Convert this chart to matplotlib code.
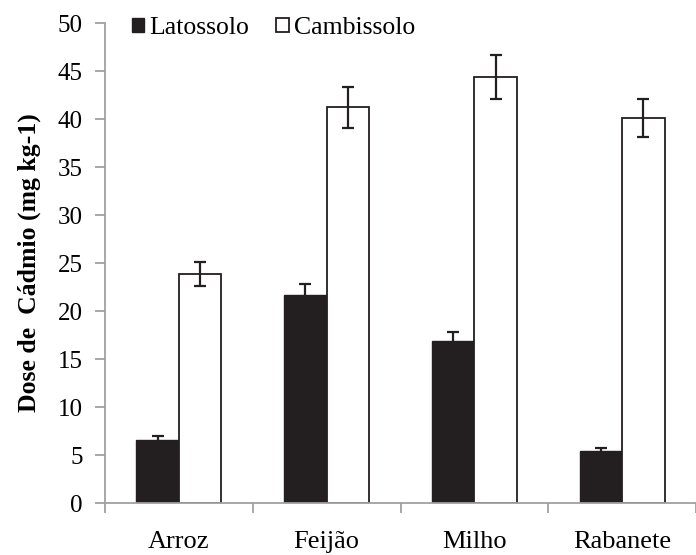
import matplotlib
matplotlib.use("Agg")
import matplotlib.pyplot as plt
import numpy as np

# data
culturas = ["Arroz", "Feijão", "Milho", "Rabanete"]
latossolo = [6.6, 21.7, 16.9, 5.4]
latossolo_err = [0.4, 1.15, 0.9, 0.3]
cambissolo = [23.9, 41.2, 44.4, 40.1]
cambissolo_err = [1.25, 2.1, 2.3, 2.0]

plt.rcParams["font.family"] = ["Liberation Serif", "DejaVu Serif"]

fig = plt.figure(figsize=(6.96, 5.55), dpi=100)
ax = fig.add_axes([105 / 696, 52 / 555, 591 / 696, 480 / 555])

x = np.arange(len(culturas))
w = 0.287
errkw = dict(elinewidth=1.6, capsize=4.5, capthick=1.6, ecolor="#231f20")
ax.bar(x - w / 2, latossolo, w, yerr=latossolo_err, color="#231f20",
       edgecolor="#231f20", linewidth=1.0, label="Latossolo", error_kw=errkw)
ax.bar(x + w / 2, cambissolo, w, yerr=cambissolo_err, color="white",
       edgecolor="#231f20", linewidth=1.3, label="Cambissolo", error_kw=errkw)

ax.set_ylim(0, 50)
ax.set_yticks(range(0, 51, 5))
ax.set_xlim(-0.5, -0.5 + 591 / 150)
ax.set_xticks(x)
ax.set_xticklabels(culturas)
ax.set_xticks(np.arange(-0.5, 4, 1), minor=True)
ax.tick_params(axis="x", which="major", length=0, labelsize=19, pad=20)
ax.tick_params(axis="x", which="minor", length=7, width=1.3, color="#a0a0a0", direction="out")
ax.tick_params(axis="y", length=7, width=1.3, color="#a0a0a0", direction="out",
               labelsize=18, pad=9)

for s in ["top", "right"]:
    ax.spines[s].set_visible(False)
for s in ["left", "bottom"]:
    ax.spines[s].set_color("#a0a0a0")
    ax.spines[s].set_linewidth(1.3)

ax.set_ylabel("Dose de  Cádmio (mg kg-1)", fontsize=18.5, fontweight="bold", labelpad=12)

ax.legend(loc="upper left", bbox_to_anchor=(0.045, 1.012), ncol=2, frameon=False,
          fontsize=18.5, handlelength=0.5, handleheight=0.5, handletextpad=0.2,
          columnspacing=1.05, borderaxespad=0, borderpad=0)

fig.savefig("out.png", dpi=100)
